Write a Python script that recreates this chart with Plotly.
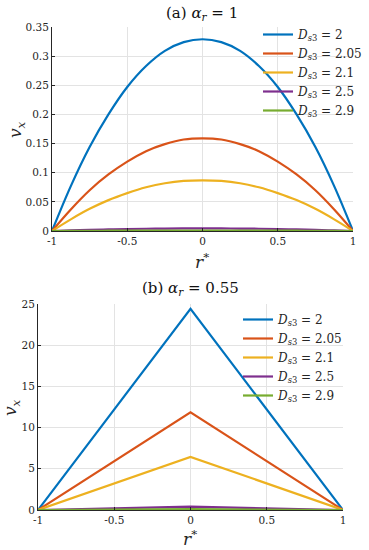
import plotly.graph_objects as go

# ---- data ----
r_a = [-1, -0.875, -0.75, -0.625, -0.5, -0.375, -0.25, -0.125, 0,
       0.125, 0.25, 0.375, 0.5, 0.625, 0.75, 0.875, 1]
v_a_200 = [0, 0.077, 0.144, 0.200, 0.247, 0.283, 0.309, 0.324, 0.329,
           0.324, 0.309, 0.283, 0.247, 0.200, 0.144, 0.077, 0]
v_a_205 = [0, 0.037, 0.070, 0.097, 0.119, 0.137, 0.149, 0.157, 0.159,
           0.157, 0.149, 0.137, 0.119, 0.097, 0.070, 0.037, 0]
v_a_210 = [0, 0.020, 0.038, 0.053, 0.065, 0.075, 0.082, 0.086, 0.087,
           0.086, 0.082, 0.075, 0.065, 0.053, 0.038, 0.020, 0]
v_a_250 = [0, 0.0010, 0.0020, 0.0027, 0.0034, 0.0039, 0.0042, 0.0044, 0.0045,
           0.0044, 0.0042, 0.0039, 0.0034, 0.0027, 0.0020, 0.0010, 0]
v_a_290 = [0, 0.0002, 0.0004, 0.0005, 0.0006, 0.0007, 0.0008, 0.0008, 0.0008,
           0.0008, 0.0008, 0.0007, 0.0006, 0.0005, 0.0004, 0.0002, 0]

r_b = [-1, 0, 1]
v_b_200 = [0, 24.4, 0]
v_b_205 = [0, 11.85, 0]
v_b_210 = [0, 6.45, 0]
v_b_250 = [0, 0.4, 0]
v_b_290 = [0, 0.1, 0]

series_names = ["2", "2.05", "2.1", "2.5", "2.9"]
colors = ["#0072BD", "#D95319", "#EDB120", "#7E2F8E", "#77AC30"]

x_ticks = [-1, -0.5, 0, 0.5, 1]
x_ticktext = ["-1", "-0.5", "0", "0.5", "1"]
ya_ticks = [0, 0.05, 0.1, 0.15, 0.2, 0.25, 0.3, 0.35]
ya_ticktext = ["0", "0.05", "0.1", "0.15", "0.2", "0.25", "0.3", "0.35"]
yb_ticks = [0, 5, 10, 15, 20, 25]
yb_ticktext = ["0", "5", "10", "15", "20", "25"]

SERIF = "DejaVu Serif"

def leg_name(n):
    return ('<span style="font-size:12px"><i>D</i><sub><i>s</i>3</sub> = '
            + n + '</span>')

fig = go.Figure()
for name, col, ys in zip(series_names, colors, [v_a_200, v_a_205, v_a_210, v_a_250, v_a_290]):
    fig.add_trace(go.Scatter(
        x=r_a, y=ys, mode="lines", line=dict(color=col, width=2.2, shape="spline"),
        name=leg_name(name), xaxis="x", yaxis="y", legend="legend"))
for name, col, ys in zip(series_names, colors, [v_b_200, v_b_205, v_b_210, v_b_250, v_b_290]):
    fig.add_trace(go.Scatter(
        x=r_b, y=ys, mode="lines", line=dict(color=col, width=2.2),
        name=leg_name(name), xaxis="x2", yaxis="y2", legend="legend2"))

W, H = 369, 550
def fx(px):
    return px / W
def fy(py):
    return 1 - py / H

axis_common = dict(
    showgrid=True, gridcolor="#e3e3e3", gridwidth=1, zeroline=False,
    showline=True, linecolor="#262626", linewidth=1, mirror=False,
    ticks="inside", ticklen=3, tickcolor="#262626", automargin=False,
    tickfont=dict(family=SERIF, size=10.5, color="#262626"),
)

ann_font = dict(family=SERIF, size=15, color="#111")
lab_font = dict(family=SERIF, size=17, color="#262626")

fig.update_layout(
    width=W, height=H,
    margin=dict(l=0, r=0, t=0, b=0, autoexpand=False),
    paper_bgcolor="white", plot_bgcolor="white",
    font=dict(family=SERIF, color="#262626"),
    xaxis=dict(domain=[fx(52), fx(353)], anchor="y", range=[-1, 1],
               tickvals=x_ticks, ticktext=x_ticktext, **axis_common),
    yaxis=dict(domain=[fy(231), fy(27)], anchor="x", range=[0, 0.35],
               tickvals=ya_ticks, ticktext=ya_ticktext, **axis_common),
    xaxis2=dict(domain=[fx(38), fx(343)], anchor="y2", range=[-1, 1],
                tickvals=x_ticks, ticktext=x_ticktext, **axis_common),
    yaxis2=dict(domain=[fy(510), fy(304)], anchor="x2", range=[0, 25],
                tickvals=yb_ticks, ticktext=yb_ticktext, **axis_common),
    legend=dict(x=fx(258), y=fy(20), xanchor="left", yanchor="top",
                bgcolor="rgba(0,0,0,0)", borderwidth=0,
                font=dict(family=SERIF, size=11, color="#262626"),
                itemwidth=30, tracegroupgap=0),
    legend2=dict(x=fx(238), y=fy(305), xanchor="left", yanchor="top",
                 bgcolor="rgba(0,0,0,0)", borderwidth=0,
                 font=dict(family=SERIF, size=11, color="#262626"),
                 itemwidth=30, tracegroupgap=0),
    annotations=[
        dict(text="(a) <i>α<sub>r</sub></i> = 1", x=fx(202), y=fy(13), xref="paper", yref="paper",
             showarrow=False, xanchor="center", yanchor="middle", font=ann_font),
        dict(text="(b) <i>α<sub>r</sub></i> = 0.55", x=fx(190), y=fy(288), xref="paper", yref="paper",
             showarrow=False, xanchor="center", yanchor="middle", font=ann_font),
        dict(text="<i>r</i><sup>*</sup>", x=fx(202), y=fy(261), xref="paper", yref="paper",
             showarrow=False, xanchor="center", yanchor="middle", font=lab_font),
        dict(text="<i>r</i><sup>*</sup>", x=fx(190), y=fy(538), xref="paper", yref="paper",
             showarrow=False, xanchor="center", yanchor="middle", font=lab_font),
        dict(text="<i>v<sub>x</sub></i>", x=fx(17), y=fy(130), xref="paper", yref="paper",
             showarrow=False, xanchor="center", yanchor="middle", textangle=-90, font=lab_font),
        dict(text="<i>v<sub>x</sub></i>", x=fx(11), y=fy(408), xref="paper", yref="paper",
             showarrow=False, xanchor="center", yanchor="middle", textangle=-90, font=lab_font),
    ],
    showlegend=True,
)

fig.write_html("out.html", config={"displayModeBar": False},
               post_script="document.body.style.margin='0';")
